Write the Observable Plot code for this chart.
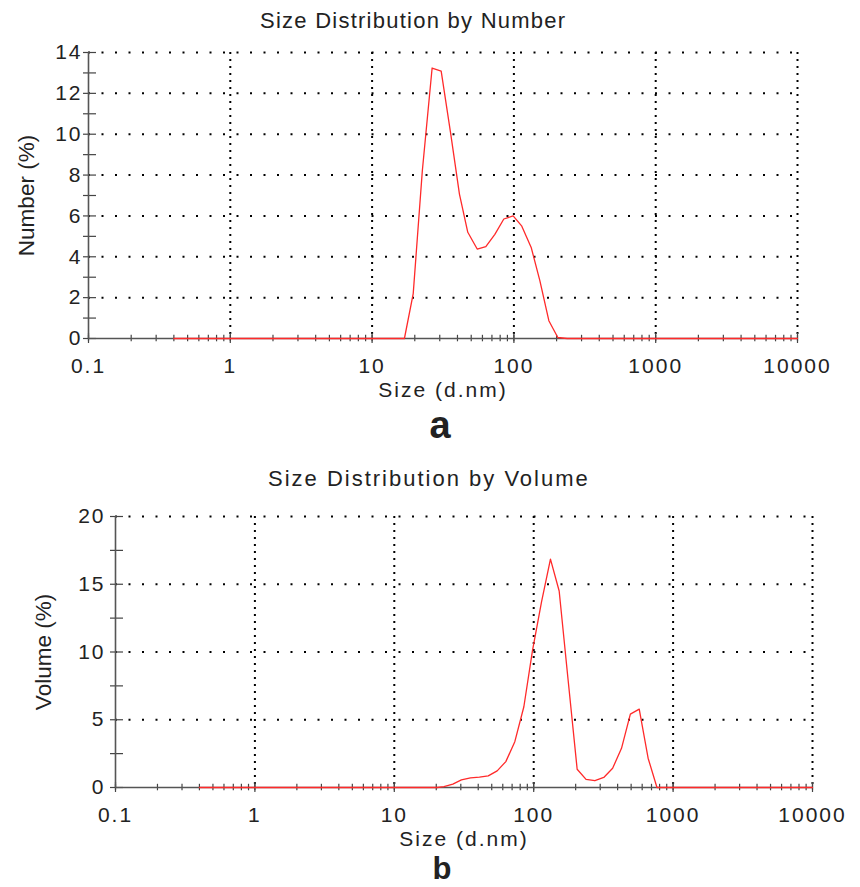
<!DOCTYPE html>
<html>
<head>
<meta charset="utf-8">
<script src="https://cdn.jsdelivr.net/npm/d3@7"></script>
<script src="https://cdn.jsdelivr.net/npm/@observablehq/plot@0.6"></script>
<style>
  body { margin: 0; background: #fff; }
  #wrap { position: relative; width: 860px; height: 887px; font-family: "Liberation Sans", Arial, sans-serif; color: #222; }
  .title { position: absolute; font-size: 22px; line-height: 22px; white-space: nowrap; }
  .panel { position: absolute; font-weight: bold; text-align: center; width: 60px; }
  .chart { position: absolute; left: 0; }
  .chart svg { overflow: visible; }
  .chart g[aria-label="x-axis tick label"] text,
  .chart g[aria-label="y-axis tick label"] text { letter-spacing: 2px; }
  .chart g[aria-label="x-axis label"] text { letter-spacing: 2px; font-size: 21px; }
  .chart g[aria-label="y-axis label"] text { font-size: 22.5px; }
</style>
</head>
<body>
<div id="wrap">
  <div class="title" id="t1" style="left:260px;top:10px;letter-spacing:1.25px;"></div>
  <div class="chart" id="c1" style="top:0px;"></div>
  <div class="panel" id="p1" style="left:410px;top:406px;font-size:38px;line-height:38px;font-family:'Liberation Sans Narrow','Liberation Sans',Arial,sans-serif;"></div>
  <div class="title" id="t2" style="left:268px;top:468px;letter-spacing:2px;"></div>
  <div class="chart" id="c2" style="top:440px;"></div>
  <div class="panel" id="p2" style="left:412px;top:853px;font-size:31px;line-height:31px;"></div>
</div>
<script>
// ---- data ----
const titles = ["Size Distribution by Number", "Size Distribution by Volume"];
const panelLetters = ["a", "b"];
const xTitle = "Size (d.nm)";
const yTitles = ["Number (%)", "Volume (%)"];
const xMajorTicks = [0.1, 1, 10, 100, 1000, 10000];
const xTickLabels = ["0.1", "1", "10", "100", "1000", "10000"];
const yTicksNumber = [0, 2, 4, 6, 8, 10, 12, 14];
const yTicksVolume = [0, 5, 10, 15, 20];

// Number distribution (size in d.nm, percent)
const numberSize = [0.4, 16.9, 19.5, 22.6, 26.5, 30.7, 35.7, 41.3, 47.3, 55.1, 63.4, 73.4, 84.9, 98.8, 113.7, 132.4, 152.4, 176.4, 204, 237.5, 10000];
const numberPct  = [0,   0,    2.2,  8.2,  13.24, 13.09, 10.1, 7.07, 5.2, 4.38, 4.5, 5.1, 5.85, 6.0, 5.5, 4.46, 2.83, 0.87, 0.05, 0, 0];

// Volume distribution (size in d.nm, percent)
const volumeSize = [0.4, 20.3, 22.7, 26.3, 30.3, 35.2, 40.8, 47.2, 54.7, 63.1, 73.2, 85.0, 98.0, 113.8, 131.9, 152.3, 176.7, 205, 237.4, 274.8, 318.2, 368.3, 426.5, 493.6, 571.5, 661.9, 766.2, 10000];
const volumePct  = [0,   0,    0.07, 0.25, 0.56, 0.71, 0.76, 0.86, 1.23, 1.91, 3.38, 5.96, 10.1, 13.7, 16.86, 14.5, 7.9, 1.35, 0.6, 0.5, 0.74, 1.42, 2.89, 5.42, 5.78, 2.16, 0, 0];

document.getElementById("t1").textContent = titles[0];
document.getElementById("t2").textContent = titles[1];
document.getElementById("p1").textContent = panelLetters[0];
document.getElementById("p2").textContent = panelLetters[1];

const xLabelOf = d => xTickLabels[xMajorTicks.findIndex(t => Math.abs(Math.log10(t) - Math.log10(d)) < 1e-6)];

function makeChart({sizes, values, yMax, yTicks, yMinor, ylabel, height, marginTop, marginBottom, marginLeft, marginRight, yLabelOffset, yTickPad}) {
  const rows = sizes.map((s, i) => ({size: s, value: values[i]}));
  const yGrid = yTicks.filter(d => d > 0);
  return Plot.plot({
    width: 860, height, marginTop, marginBottom, marginLeft, marginRight,
    style: {fontFamily: "'Liberation Sans', Arial, sans-serif", fontSize: "21px", color: "#222", background: "transparent"},
    x: {type: "log", domain: [0.1, 10000]},
    y: {domain: [0, yMax]},
    marks: [
      Plot.gridX({ticks: xMajorTicks.slice(1), stroke: "#000", strokeOpacity: 1, strokeWidth: 2, strokeDasharray: "2,5"}),
      Plot.gridY({ticks: yGrid, stroke: "#000", strokeOpacity: 1, strokeWidth: 2, strokeDasharray: "2,11.5"}),
      // minor x ticks (crossing the axis)
      Plot.axisX({ticks: 40, tickSize: 6.5, dy: -3.2, tickFormat: () => "", label: null, stroke: "#444", strokeWidth: 1.2}),
      // major x ticks (longer)
      Plot.axisX({ticks: xMajorTicks, tickSize: 10, dy: -5, tickFormat: () => "", label: null, stroke: "#444", strokeWidth: 1.2}),
      // x tick labels + title
      Plot.axisX({ticks: xMajorTicks, tickSize: 0, tickPadding: 20, tickFormat: xLabelOf,
        label: xTitle, labelAnchor: "center", labelOffset: 58, labelArrow: "none", fill: "#222"}),
      // y ticks crossing the axis
      Plot.axisY({interval: yMinor, tickSize: 13, dx: 8, tickFormat: () => "", label: null, stroke: "#444", strokeWidth: 1.2}),
      // y tick labels + title
      Plot.axisY({ticks: yTicks, tickSize: 0, tickPadding: yTickPad, tickFormat: d => String(d),
        label: ylabel, labelAnchor: "center", labelOffset: yLabelOffset, labelArrow: "none", fill: "#222"}),
      Plot.ruleY([0], {stroke: "#555", strokeWidth: 1.6}),
      Plot.ruleX([0.1], {stroke: "#555", strokeWidth: 1.6}),
      Plot.line(rows, {x: "size", y: "value", stroke: "#ff2a2a", strokeWidth: 1.3})
    ]
  });
}

document.getElementById("c1").appendChild(makeChart({
  sizes: numberSize, values: numberPct, yMax: 14, yTicks: yTicksNumber, yMinor: 1, ylabel: yTitles[0],
  height: 420, marginTop: 52, marginBottom: 82, marginLeft: 88, marginRight: 63, yLabelOffset: 70, yTickPad: 6
}));
document.getElementById("c2").appendChild(makeChart({
  sizes: volumeSize, values: volumePct, yMax: 20, yTicks: yTicksVolume, yMinor: 2.5, ylabel: yTitles[1],
  height: 430, marginTop: 76, marginBottom: 83, marginLeft: 115, marginRight: 48, yLabelOffset: 80, yTickPad: 10
}));
</script>
</body>
</html>
